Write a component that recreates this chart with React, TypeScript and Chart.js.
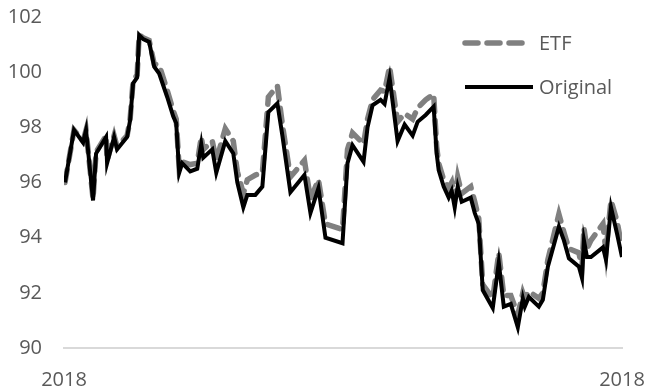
import React, { useEffect, useRef } from "react";
import { Chart, registerables } from "chart.js";

Chart.register(...registerables);

// Position of each observation along the year (session index, 0 = first session of 2018)
const sessionIndex = [
  1, 10, 19, 22, 29, 32, 42, 43, 50, 53,
  63, 66, 69, 73, 75, 79, 85, 90, 95, 103,
  109, 112, 115, 118, 126, 133, 137, 139, 148, 152,
  161, 169, 173, 179, 183, 191, 198, 204, 213, 218,
  226, 240, 246, 254, 261, 278, 283, 288, 299, 303,
  308, 316, 320, 325, 333, 340, 348, 353, 361, 369,
  372, 374, 379, 384, 387, 390, 393, 397, 406, 410,
  414, 418, 428, 434, 439, 446, 453, 458, 460, 464,
  474, 478, 483, 494, 499, 504, 514, 517, 519, 522,
  526, 538, 541, 546, 552, 557,
];

const originalValues = [
  96.0, 97.9, 97.45, 97.9, 95.35, 97.05, 97.65, 96.7, 97.65, 97.2,
  97.65, 98.26, 99.6, 99.8, 101.35, 101.2, 101.1, 100.2, 99.95, 99.1,
  98.4, 98.15, 96.35, 96.7, 96.4, 96.5, 97.4, 96.9, 97.2, 96.35,
  97.5, 97.05, 96.0, 95.1, 95.55, 95.55, 95.85, 98.55, 98.87, 97.7,
  95.65, 96.27, 94.9, 95.8, 94.0, 93.8, 96.7, 97.35, 96.75, 98.0,
  98.8, 99.0, 98.85, 99.8, 97.5, 98.1, 97.7, 98.2, 98.45, 98.75,
  97.05, 96.45, 95.85, 95.45, 95.7, 95.1, 95.85, 95.3, 95.45, 94.9,
  94.5, 92.1, 91.45, 93.1, 91.5, 91.6, 90.75, 91.8, 91.5, 91.85,
  91.5, 91.75, 92.95, 94.4, 93.9, 93.25, 92.95, 92.55, 93.9, 93.3,
  93.3, 93.65, 93.2, 95.1, 94.15, 93.3,
];

const etfValues = [
  96.0, 97.9, 97.5, 97.9, 95.4, 97.1, 97.7, 96.8, 97.7, 97.3,
  97.7, 98.3, 99.7, 99.9, 101.35, 101.25, 101.15, 100.3, 100.25, 99.35,
  98.6, 98.3, 96.5, 96.75, 96.65, 96.7, 97.65, 97.2, 97.5, 96.8,
  97.95, 97.5, 96.4, 95.6, 96.1, 96.27, 96.35, 99.1, 99.5, 98.1,
  96.2, 96.8, 95.4, 96.1, 94.5, 94.3, 97.2, 97.8, 97.4, 98.3,
  99.0, 99.35, 99.3, 100.2, 98.2, 98.5, 98.3, 98.7, 99.0, 99.2,
  97.3, 96.7, 96.1, 95.8, 96.0, 95.4, 96.2, 95.6, 95.85, 95.3,
  94.7, 92.3, 91.8, 93.45, 91.9, 91.9, 91.2, 92.0, 91.8, 92.05,
  91.8, 92.0, 93.2, 94.85, 94.2, 93.6, 93.45, 92.9, 94.35, 93.6,
  93.9, 94.5, 93.5, 95.35, 94.6, 93.65,
];

const seriesLabels = ["ETF", "Original"];
const xTickLabels = ["2018", "2018"];
const xRange = [0, 557];
const yRange = [90, 102];
const yStep = 2;

const FONT = "'Open Sans', 'Noto Sans', sans-serif";
const TEXT_COLOR = "#595959";

const legendPlugin = {
  id: "insideLegend",
  afterDatasetsDraw(chart: any) {
    const ctx = chart.ctx;
    const area = chart.chartArea;
    const items = chart.data.datasets;
    ctx.save();
    ctx.font = `20px ${FONT}`;
    ctx.textBaseline = "middle";
    const x0 = area.right - 160;
    const rows = [43, 87];
    items.forEach((ds: any, i: number) => {
      const y = rows[i];
      ctx.beginPath();
      ctx.strokeStyle = ds.borderColor;
      ctx.lineWidth = i === 0 ? 5.5 : 4;
      ctx.lineCap = i === 0 ? "round" : "butt";
      ctx.setLineDash(ds.borderDash || []);
      ctx.moveTo(x0 + 3, y);
      ctx.lineTo(x0 + (i === 0 ? 64 : 71), y);
      ctx.stroke();
      ctx.setLineDash([]);
      ctx.fillStyle = TEXT_COLOR;
      ctx.fillText(ds.label, x0 + 77, y + 1);
    });
    ctx.restore();
  },
};

export default function App() {
  const ref = useRef<HTMLCanvasElement | null>(null);

  useEffect(() => {
    document.body.style.margin = "0";
    const canvas = ref.current;
    if (!canvas) return;
    const chart = new Chart(canvas, {
      type: "line",
      data: {
        datasets: [
          {
            label: seriesLabels[0],
            data: sessionIndex.map((x, i) => ({ x, y: etfValues[i] })),
            borderColor: "#808080",
            borderWidth: 5.5,
            borderDash: [13, 9],
            borderCapStyle: "round",
            pointRadius: 0,
            tension: 0,
            fill: false,
            order: 2,
          },
          {
            label: seriesLabels[1],
            data: sessionIndex.map((x, i) => ({ x, y: originalValues[i] })),
            borderColor: "#000000",
            borderWidth: 4,
            pointRadius: 0,
            tension: 0,
            fill: false,
            order: 1,
          },
        ],
      } as any,
      options: {
        animation: false,
        responsive: false,
        maintainAspectRatio: false,
        layout: { padding: { top: 17, right: 25, left: 0, bottom: 0 } },
        plugins: {
          legend: { display: false },
          tooltip: { enabled: false },
        },
        scales: {
          x: {
            type: "linear",
            min: xRange[0],
            max: xRange[1],
            afterBuildTicks: (scale: any) => {
              scale.ticks = [{ value: xRange[0] }, { value: xRange[1] }];
            },
            afterFit: (scale: any) => {
              scale.height = 44;
              scale.paddingLeft = 0;
              scale.paddingRight = 0;
            },
            grid: { display: true, color: "rgba(0,0,0,0)", drawTicks: false },
            border: { display: true, color: "#d9d9d9", width: 2 },
            ticks: {
              autoSkip: false,
              maxRotation: 0,
              padding: 20,
              color: TEXT_COLOR,
              font: { family: FONT, size: 20 },
              callback: (_v: any, i: number) => xTickLabels[i],
            },
          },
          y: {
            type: "linear",
            min: yRange[0],
            max: yRange[1],
            afterFit: (scale: any) => {
              scale.width = 64;
              scale.paddingTop = 0;
              scale.paddingBottom = 0;
            },
            grid: { display: false, drawTicks: false },
            border: { display: false },
            ticks: {
              stepSize: yStep,
              padding: 22,
              color: TEXT_COLOR,
              font: { family: FONT, size: 20 },
            },
          },
        },
      } as any,
      plugins: [legendPlugin],
    });
    return () => chart.destroy();
  }, []);

  return (
    <div style={{ width: 647, height: 392 }}>
      <canvas ref={ref} width={647} height={392} style={{ width: 647, height: 392, display: "block" }} />
    </div>
  );
}
